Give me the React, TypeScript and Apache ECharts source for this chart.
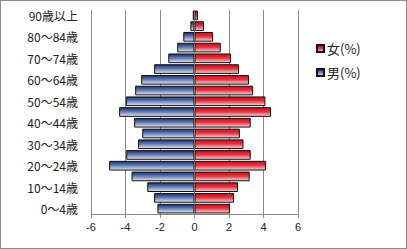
import React, { useEffect, useRef } from "react";
import * as echarts from "echarts";

const categories = [
  "0～4歳", "5～9歳", "10～14歳", "15～19歳", "20～24歳", "25～29歳", "30～34歳",
  "35～39歳", "40～44歳", "45～49歳", "50～54歳", "55～59歳", "60～64歳", "65～69歳",
  "70～74歳", "75～79歳", "80～84歳", "85～89歳", "90歳以上",
];
const maleValues = [
  2.15, 2.34, 2.74, 3.65, 4.95, 3.96, 3.27, 3.03, 3.5, 4.37,
  3.98, 3.44, 3.09, 2.34, 1.52, 1.0, 0.65, 0.24, 0.1,
];
const femaleValues = [
  2.05, 2.29, 2.52, 3.2, 4.15, 3.26, 2.84, 2.63, 3.26, 4.44,
  4.11, 3.4, 3.16, 2.58, 2.12, 1.52, 1.08, 0.55, 0.2,
];
const maleName = "男(%)";
const femaleName = "女(%)";
const xTicks = { min: -6, max: 6, interval: 2 };

export default function App() {
  const ref = useRef<HTMLDivElement>(null);
  useEffect(() => {
    document.body.style.margin = "0";
    const chart = echarts.init(ref.current!, null, { renderer: "svg" });
    const maleGrad = new echarts.graphic.LinearGradient(0, 0, 0, 1, [
      { offset: 0, color: "#1a3068" },
      { offset: 0.45, color: "#5f78b0" },
      { offset: 1, color: "#e2e8f3" },
    ]);
    const femaleGrad = new echarts.graphic.LinearGradient(0, 0, 0, 1, [
      { offset: 0, color: "#c4101c" },
      { offset: 0.45, color: "#e8303e" },
      { offset: 1, color: "#f6d6da" },
    ]);
    chart.setOption({
      animation: false,
      textStyle: { fontFamily: "'Noto Sans CJK JP', sans-serif" },
      grid: { left: 90, right: 108, top: 9, bottom: 34, containLabel: false },
      legend: {
        orient: "vertical",
        left: 310,
        top: 36,
        itemWidth: 7,
        itemHeight: 7,
        itemGap: 11,
        icon: "rect",
        data: [femaleName, maleName],
        textStyle: { fontSize: 13, color: "#222", padding: [0, 0, 0, -2] },
      },
      xAxis: {
        type: "value",
        min: xTicks.min,
        max: xTicks.max,
        interval: xTicks.interval,
        axisLine: { show: true, onZero: false, lineStyle: { color: "#8a8a8a" } },
        axisTick: { show: true, length: 4, lineStyle: { color: "#8a8a8a" } },
        splitLine: { show: true, lineStyle: { color: "#8a8a8a", width: 1 } },
        axisLabel: { fontSize: 11, color: "#222", margin: 7, fontFamily: "'Liberation Sans', Arial, sans-serif" },
      },
      yAxis: {
        type: "category",
        data: categories,
        axisLine: { show: false, onZero: false },
        axisTick: { show: false },
        axisLabel: { fontSize: 12, color: "#222", margin: 13, interval: 1 },
      },
      series: [
        {
          name: maleName,
          type: "bar",
          data: maleValues.map((v) => -v),
          barWidth: "90%",
          barGap: "-100%",
          itemStyle: { color: maleGrad, borderColor: "#111", borderWidth: 1 },
          markLine: {
            silent: true,
            symbol: "none",
            label: { show: false },
            lineStyle: { color: "#707070", type: "solid", width: 1 },
            data: [{ xAxis: 0 }],
          },
        },
        {
          name: femaleName,
          type: "bar",
          data: femaleValues,
          barWidth: "90%",
          barGap: "-100%",
          itemStyle: { color: femaleGrad, borderColor: "#111", borderWidth: 1 },
        },
      ],
    });
    return () => chart.dispose();
  }, []);
  return (
    <div
      style={{
        position: "absolute",
        left: 0,
        top: 0,
        width: 407,
        height: 249,
        boxSizing: "border-box",
        border: "1px solid #8c8c8c",
        background: "#fff",
      }}
    >
      <div ref={ref} style={{ width: 405, height: 247 }} />
    </div>
  );
}
